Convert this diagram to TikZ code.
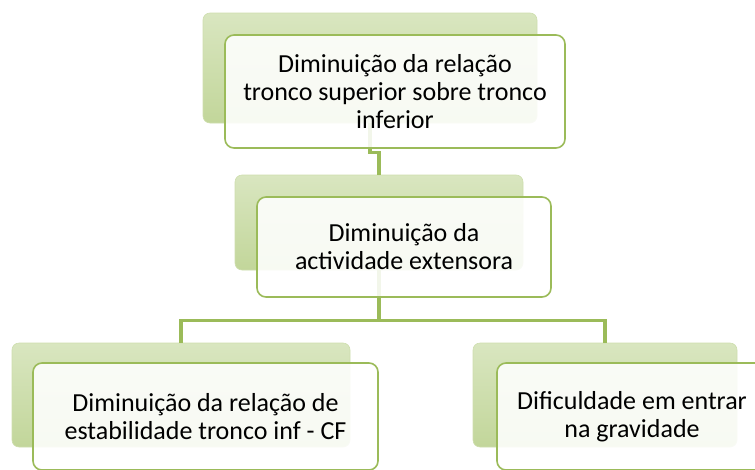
\documentclass[tikz,border=0pt]{standalone}
\usepackage{fontspec}
\setmainfont{Carlito}
\definecolor{olivegreen}{HTML}{9BBB59}
\definecolor{backtop}{HTML}{D9E6C0}
\definecolor{backbot}{HTML}{C2D69A}
\tikzset{
    backbox/.style={rounded corners=7pt, top color=backtop, bottom color=backbot,
        draw=backbot!80!white, line width=0.6pt, inner sep=0pt},
    frontbox/.style={rounded corners=9pt, draw=olivegreen, line width=1.6pt,
        fill=white, fill opacity=0.88, text opacity=1, align=center, inner sep=0pt,
        font=\fontsize{26}{28}\selectfont},
    link/.style={draw=olivegreen, line width=3.6pt},
}
\begin{document}
\begin{tikzpicture}[x=1pt, y=-1pt]
    \path[use as bounding box, clip] (0,0) rectangle (755,469);

    \node[backbox, minimum width=334, minimum height=110] (top) at (370,68) {};
    \node[backbox, minimum width=288, minimum height=95] (mid) at (379,222.5) {};
    \node[backbox, minimum width=338, minimum height=104] (left) at (181,395) {};
    \node[backbox, minimum width=264, minimum height=104] (right) at (605,395) {};

    \draw[link] (top.south) -- ++(0,29) -| (mid.north);
    \draw[link] (mid.south) -- ++(0,50) coordinate (fork);
    \draw[link] (fork) -| (left.north);
    \draw[link] (fork) -| (right.north);

    \node[frontbox, minimum width=340, minimum height=113] (topT) at (395,91.5)
        {Diminuição da relação\\tronco superior sobre tronco\\inferior};
    \node[frontbox, minimum width=294, minimum height=100] (midT) at (404,247)
        {Diminuição da\\actividade extensora};
    \node[frontbox, minimum width=345, minimum height=107] (leftT) at (205.5,416.5)
        {Diminuição da relação de\\estabilidade tronco inf - CF};
    \node[frontbox, minimum width=270, minimum height=107] (rightT) at (632,416.5)
        {Dificuldade em entrar\\na gravidade};
\end{tikzpicture}
\end{document}
